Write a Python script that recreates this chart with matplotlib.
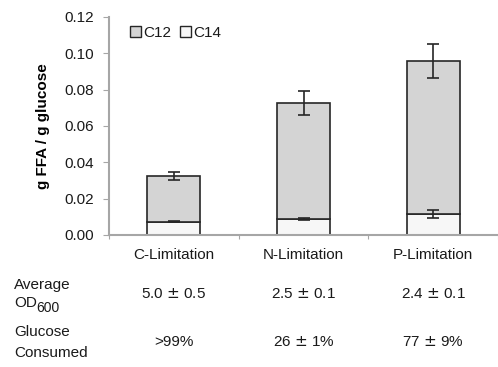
import matplotlib
matplotlib.use('Agg')
import matplotlib.pyplot as plt
from matplotlib.patches import Patch

plt.rcParams['font.family'] = ['Liberation Sans', 'DejaVu Sans']
plt.rcParams['text.color'] = '#1a1a1a'

conditions = ['C-Limitation', 'N-Limitation', 'P-Limitation']
c14 = [0.0073, 0.0090, 0.0116]
c14_err = [0.0004, 0.0006, 0.0021]
c12 = [0.0252, 0.0638, 0.0842]
total_err = [0.0023, 0.0067, 0.0096]
od600 = ['5.0 $\\pm$ 0.5', '2.5 $\\pm$ 0.1', '2.4 $\\pm$ 0.1']
glucose = ['>99%', '26 $\\pm$ 1%', '77 $\\pm$ 9%']

grey = '#a6a6a6'
fs = 11
fig = plt.figure(figsize=(4.98, 3.67), dpi=100)
ax = fig.add_axes([0.219, 0.3597, 0.781, 0.594])

x = list(range(len(conditions)))
totals = [a + b for a, b in zip(c14, c12)]
ax.bar(x, c14, width=0.41, color='#f7f7f7', edgecolor='#262626', linewidth=1.2)
ax.bar(x, c12, width=0.41, bottom=c14, color='#d4d4d4', edgecolor='#262626', linewidth=1.2)
ek = dict(fmt='none', ecolor='#262626', elinewidth=1.2, capsize=4, capthick=1.2)
ax.errorbar(x, c14, yerr=c14_err, **ek)
ax.errorbar(x, totals, yerr=total_err, **ek)

ax.set_xlim(-0.5, 2.447)
ax.set_ylim(0, 0.12)
ax.set_yticks([0, 0.02, 0.04, 0.06, 0.08, 0.10, 0.12])
ax.set_yticklabels(['%.2f' % v for v in ax.get_yticks()], fontsize=fs, color='#1a1a1a')
ax.set_xticks([-0.5, 0.5, 1.5, 2.5])
ax.set_xticklabels([])
ax.tick_params(axis='x', length=3, color=grey, direction='out')
ax.tick_params(axis='y', length=4, color=grey, direction='out', pad=7)
for s in ['top', 'right']:
    ax.spines[s].set_visible(False)
for s in ['left', 'bottom']:
    ax.spines[s].set_color(grey)
    ax.spines[s].set_linewidth(1.5)
ax.set_ylabel('g FFA / g glucose', fontsize=fs, fontweight='bold', labelpad=10)

handles = [Patch(facecolor='#d4d4d4', edgecolor='#262626', label='C12'),
           Patch(facecolor='#f7f7f7', edgecolor='#262626', label='C14')]
ax.legend(handles=handles, loc='upper left', bbox_to_anchor=(0.03, 1.0), ncol=2,
          frameon=False, fontsize=fs, handlelength=0.7, handleheight=0.7,
          handletextpad=0.15, columnspacing=0.6, borderaxespad=0.2)

trans = ax.get_xaxis_transform()
for i, name in enumerate(conditions):
    ax.text(i, -0.09, name, transform=trans, ha='center', va='center', fontsize=fs)
    ax.text(i, -0.27, od600[i], transform=trans, ha='center', va='center', fontsize=fs)
    ax.text(i, -0.49, glucose[i], transform=trans, ha='center', va='center', fontsize=fs)

fig.text(14 / 498, 1 - 285 / 367, 'Average', fontsize=fs, va='center')
fig.text(14 / 498, 1 - 303 / 367, 'OD', fontsize=fs, va='center')
fig.text(36 / 498, 1 - 308 / 367, '600', fontsize=fs - 1, va='center')
fig.text(14 / 498, 1 - 332 / 367, 'Glucose', fontsize=fs, va='center')
fig.text(14 / 498, 1 - 353 / 367, 'Consumed', fontsize=fs, va='center')

fig.savefig('out.png', dpi=100)
